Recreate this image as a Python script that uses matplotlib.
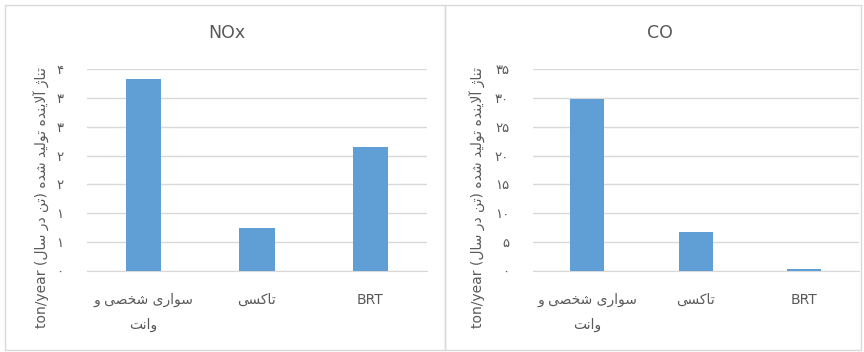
import matplotlib
matplotlib.use("Agg")
import matplotlib.pyplot as plt
from matplotlib.patches import Rectangle

plt.rcParams['font.family'] = ['DejaVu Sans']

categories = ["سواری شخصی و\nوانت", "تاکسی", "BRT"]
nox_values = [3.32, 0.75, 2.14]
co_values = [29.75, 6.7, 0.35]
nox_ticks = [0, 0.5, 1, 1.5, 2, 2.5, 3, 3.5]
nox_ticklabels = ["۰", "۱", "۱", "۲", "۲", "۳", "۳", "۴"]
co_ticks = [0, 5, 10, 15, 20, 25, 30, 35]
co_ticklabels = ["۰", "۵", "۱۰", "۱۵", "۲۰", "۲۵", "۳۰", "۳۵"]
ylabel = "تناژ آلاینده تولید شده (تن در سال) ton/year"

# arabic presentation forms: isolated, final, initial, medial
FORMS = {
    'ا': ('\uFE8D', '\uFE8E', None, None),
    'آ': ('\uFE81', '\uFE82', None, None),
    'ت': ('\uFE95', '\uFE96', '\uFE97', '\uFE98'),
    'ن': ('\uFEE5', '\uFEE6', '\uFEE7', '\uFEE8'),
    'ژ': ('\uFB8A', '\uFB8B', None, None),
    'ل': ('\uFEDD', '\uFEDE', '\uFEDF', '\uFEE0'),
    'ی': ('\uFBFC', '\uFBFD', '\uFBFE', '\uFBFF'),
    'د': ('\uFEA9', '\uFEAA', None, None),
    'و': ('\uFEED', '\uFEEE', None, None),
    'ه': ('\uFEE9', '\uFEEA', '\uFEEB', '\uFEEC'),
    'ش': ('\uFEB5', '\uFEB6', '\uFEB7', '\uFEB8'),
    'س': ('\uFEB1', '\uFEB2', '\uFEB3', '\uFEB4'),
    'ر': ('\uFEAD', '\uFEAE', None, None),
    'خ': ('\uFEA5', '\uFEA6', '\uFEA7', '\uFEA8'),
    'ص': ('\uFEB9', '\uFEBA', '\uFEBB', '\uFEBC'),
    'ک': ('\uFB8E', '\uFB8F', '\uFB90', '\uFB91'),
}


def shape_word(w):
    out = []
    i = 0
    while i < len(w):
        c = w[i]
        if c not in FORMS:
            out.append(c)
            i += 1
            continue
        prev = w[i - 1] if i > 0 else None
        jp = prev in FORMS and FORMS[prev][2] is not None
        if c == 'ل' and i + 1 < len(w) and w[i + 1] == 'ا':
            out.append('\uFEFC' if jp else '\uFEFB')
            i += 2
            continue
        nxt = w[i + 1] if i + 1 < len(w) else None
        jn = nxt in FORMS and FORMS[c][2] is not None
        iso, fin, ini, med = FORMS[c]
        if jp and jn:
            out.append(med)
        elif jp:
            out.append(fin)
        elif jn:
            out.append(ini)
        else:
            out.append(iso)
        i += 1
    return ''.join(out)


def rtl(text):
    lines = []
    for line in text.split('\n'):
        words = []
        for w in line.split(' '):
            if any(ch in FORMS for ch in w):
                s = shape_word(w)[::-1]
                s = s.replace('(', '\0').replace(')', '(').replace('\0', ')')
                words.append(s)
            else:
                words.append(w)
        lines.append(' '.join(words[::-1]))
    return '\n'.join(lines)


txt = '#595959'
grid = '#d9d9d9'
bar_color = '#5f9fd6'

fig = plt.figure(figsize=(8.64, 3.52), dpi=100)
W, H = 864, 352

# panel borders
for x0, x1 in [(5, 445), (445, 861)]:
    fig.patches.append(Rectangle((x0 / W, 1 - 350 / H), (x1 - x0) / W, 345 / H,
                                 transform=fig.transFigure, fill=False,
                                 edgecolor=grid, linewidth=1.0))

panels = [
    ("NOx", nox_values, nox_ticks, nox_ticklabels, 86.75, 427.25, 42, 227),
    ("CO", co_values, co_ticks, co_ticklabels, 532.7, 858.8, 478, 660),
]

for title, vals, ticks, tlabels, xl, xr, ylx, tx in panels:
    ax = fig.add_axes([xl / W, 1 - 271 / H, (xr - xl) / W, 202 / H])
    ax.bar(range(len(vals)), vals, width=0.313, color=bar_color, zorder=3)
    ax.set_xlim(-0.5, len(vals) - 0.5)
    ax.set_ylim(ticks[0], ticks[-1])
    ax.set_yticks(ticks)
    ax.set_yticklabels(tlabels, color=txt, fontsize=9.5)
    ax.set_xticks(range(len(vals)))
    ax.set_xticklabels([rtl(c) for c in categories], color=txt, fontsize=10,
                       linespacing=1.9, va='top')
    ax.tick_params(axis='y', length=0, pad=17)
    ax.tick_params(axis='x', length=0, pad=16)
    ax.grid(axis='y', color=grid, linewidth=1.0, zorder=0)
    for s in ax.spines.values():
        s.set_visible(False)
    ax.spines['bottom'].set_visible(True)
    ax.spines['bottom'].set_color(grid)
    fig.text(tx / W, 1 - 33 / H, title, ha='center', va='center',
             fontsize=12.5, color=txt)
    fig.text(ylx / W, 1 - 197 / H, rtl(ylabel), rotation=90, ha='center',
             va='center', fontsize=10, color=txt)

fig.savefig("out.png", dpi=100)
